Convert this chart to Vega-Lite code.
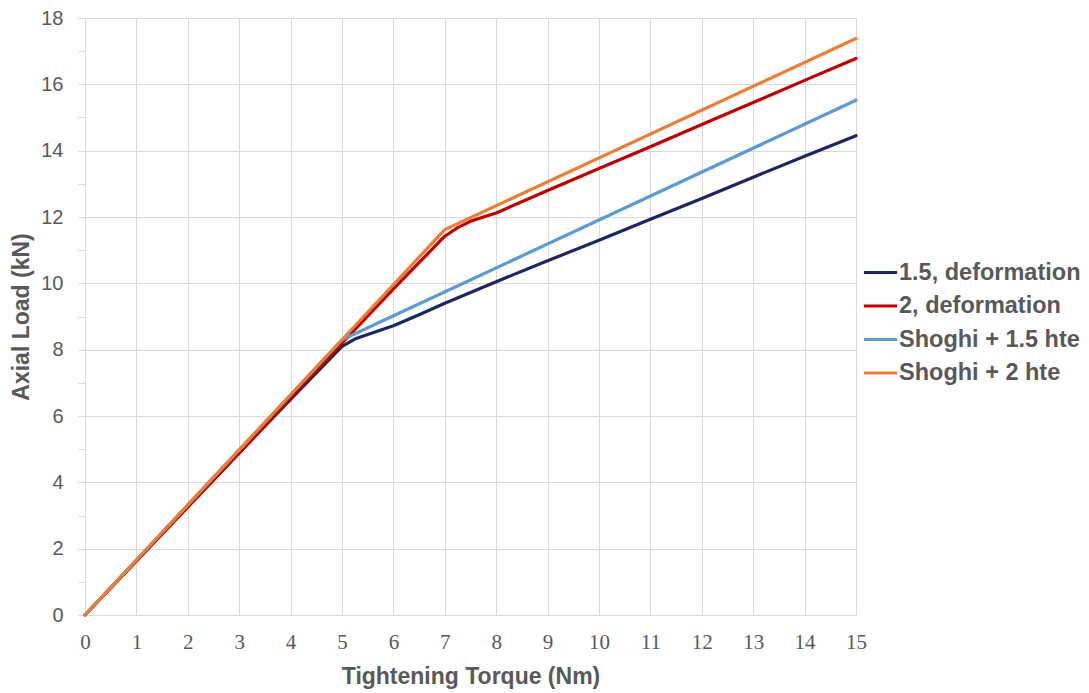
{
  "$schema": "https://vega.github.io/schema/vega-lite/v6.json",
  "autosize": {"type": "none"},
  "padding": {"left": 85, "top": 18, "right": 233, "bottom": 78},
  "width": 771,
  "height": 597,
  "background": "white",
  "config": {"view": {"stroke": null}},
  "data": {"values": [
    {"series": "1.5, deformation", "x": 0, "y": 0},
    {"series": "1.5, deformation", "x": 1, "y": 1.63},
    {"series": "1.5, deformation", "x": 2, "y": 3.26},
    {"series": "1.5, deformation", "x": 3, "y": 4.89},
    {"series": "1.5, deformation", "x": 4, "y": 6.5},
    {"series": "1.5, deformation", "x": 5, "y": 8.1},
    {"series": "1.5, deformation", "x": 5.25, "y": 8.32},
    {"series": "1.5, deformation", "x": 5.5, "y": 8.46},
    {"series": "1.5, deformation", "x": 6, "y": 8.72},
    {"series": "1.5, deformation", "x": 6.5, "y": 9.05},
    {"series": "1.5, deformation", "x": 7, "y": 9.4},
    {"series": "1.5, deformation", "x": 8, "y": 10.05},
    {"series": "1.5, deformation", "x": 9, "y": 10.68},
    {"series": "1.5, deformation", "x": 10, "y": 11.3},
    {"series": "1.5, deformation", "x": 11, "y": 11.93},
    {"series": "1.5, deformation", "x": 12, "y": 12.56},
    {"series": "1.5, deformation", "x": 13, "y": 13.2},
    {"series": "1.5, deformation", "x": 14, "y": 13.83},
    {"series": "1.5, deformation", "x": 15, "y": 14.45},
    {"series": "2, deformation", "x": 0, "y": 0},
    {"series": "2, deformation", "x": 1, "y": 1.63},
    {"series": "2, deformation", "x": 2, "y": 3.26},
    {"series": "2, deformation", "x": 3, "y": 4.89},
    {"series": "2, deformation", "x": 4, "y": 6.55},
    {"series": "2, deformation", "x": 5, "y": 8.2},
    {"series": "2, deformation", "x": 6, "y": 9.83},
    {"series": "2, deformation", "x": 7, "y": 11.42},
    {"series": "2, deformation", "x": 7.25, "y": 11.68},
    {"series": "2, deformation", "x": 7.5, "y": 11.87},
    {"series": "2, deformation", "x": 7.75, "y": 12.0},
    {"series": "2, deformation", "x": 8, "y": 12.12},
    {"series": "2, deformation", "x": 9, "y": 12.8},
    {"series": "2, deformation", "x": 10, "y": 13.46},
    {"series": "2, deformation", "x": 11, "y": 14.12},
    {"series": "2, deformation", "x": 12, "y": 14.79},
    {"series": "2, deformation", "x": 13, "y": 15.45},
    {"series": "2, deformation", "x": 14, "y": 16.12},
    {"series": "2, deformation", "x": 15, "y": 16.78},
    {"series": "Shoghi + 1.5 hte", "x": 0, "y": 0},
    {"series": "Shoghi + 1.5 hte", "x": 5, "y": 8.3},
    {"series": "Shoghi + 1.5 hte", "x": 15, "y": 15.52},
    {"series": "Shoghi + 2 hte", "x": 0, "y": 0},
    {"series": "Shoghi + 2 hte", "x": 5, "y": 8.3},
    {"series": "Shoghi + 2 hte", "x": 7, "y": 11.62},
    {"series": "Shoghi + 2 hte", "x": 15, "y": 17.38}
  ]},
  "mark": {"type": "line", "strokeCap": "round", "strokeJoin": "round"},
  "encoding": {
    "x": {
      "field": "x", "type": "quantitative",
      "scale": {"domain": [0, 15], "nice": false, "zero": false},
      "axis": {
        "title": "Tightening Torque (Nm)",
        "values": [0,1,2,3,4,5,6,7,8,9,10,11,12,13,14,15],
        "grid": true, "gridColor": "#d9d9d9", "gridWidth": 1,
        "domainColor": "#d9d9d9", "ticks": false,
        "labelFlush": false,
        "labelFont": "Liberation Sans Narrow", "labelFontSize": 21, "labelColor": "#595959",
        "labelPadding": 16,
        "titleFont": "Liberation Sans", "titleFontSize": 23, "titleFontWeight": "bold", "titleColor": "#595959",
        "titlePadding": 13
      }
    },
    "y": {
      "field": "y", "type": "quantitative",
      "scale": {"domain": [0, 18], "nice": false},
      "axis": {
        "title": "Axial Load (kN)",
        "values": [0,1,2,3,4,5,6,7,8,9,10,11,12,13,14,15,16,17,18],
        "labelExpr": "datum.value % 2 == 0 ? datum.label : ''",
        "labelFlush": false,
        "grid": true, "gridColor": "#d9d9d9", "gridWidth": 1,
        "gridOpacity": {"condition": {"test": "datum.value % 2 == 1", "value": 0}, "value": 1},
        "domainColor": "#d9d9d9", "ticks": true, "tickColor": "#d9d9d9", "tickSize": 7,
        "labelFont": "Liberation Sans", "labelFontSize": 20, "labelColor": "#595959",
        "labelPadding": 15,
        "titleFont": "Liberation Sans", "titleFontSize": 23, "titleFontWeight": "bold", "titleColor": "#595959",
        "titlePadding": 7
      }
    },
    "color": {
      "field": "series", "type": "nominal",
      "scale": {"domain": ["1.5, deformation", "2, deformation", "Shoghi + 1.5 hte", "Shoghi + 2 hte"],
                "range": ["#1a2762", "#c00000", "#5b9bd5", "#ed7d31"]},
      "legend": {
        "title": null, "orient": "none", "legendX": 777, "legendY": 236,
        "symbolType": "stroke", "symbolSize": 1100, "symbolStrokeWidth": 3,
        "labelFont": "Liberation Sans", "labelFontSize": 23.5, "labelFontWeight": "bold", "labelColor": "#595959",
        "labelOffset": 0, "rowPadding": 3.5, "labelLimit": 300
      }
    },
    "strokeWidth": {
      "field": "series", "type": "nominal",
      "scale": {"domain": ["1.5, deformation", "2, deformation", "Shoghi + 1.5 hte", "Shoghi + 2 hte"],
                "range": [3.2, 3.2, 2, 2]},
      "legend": null
    }
  }
}
